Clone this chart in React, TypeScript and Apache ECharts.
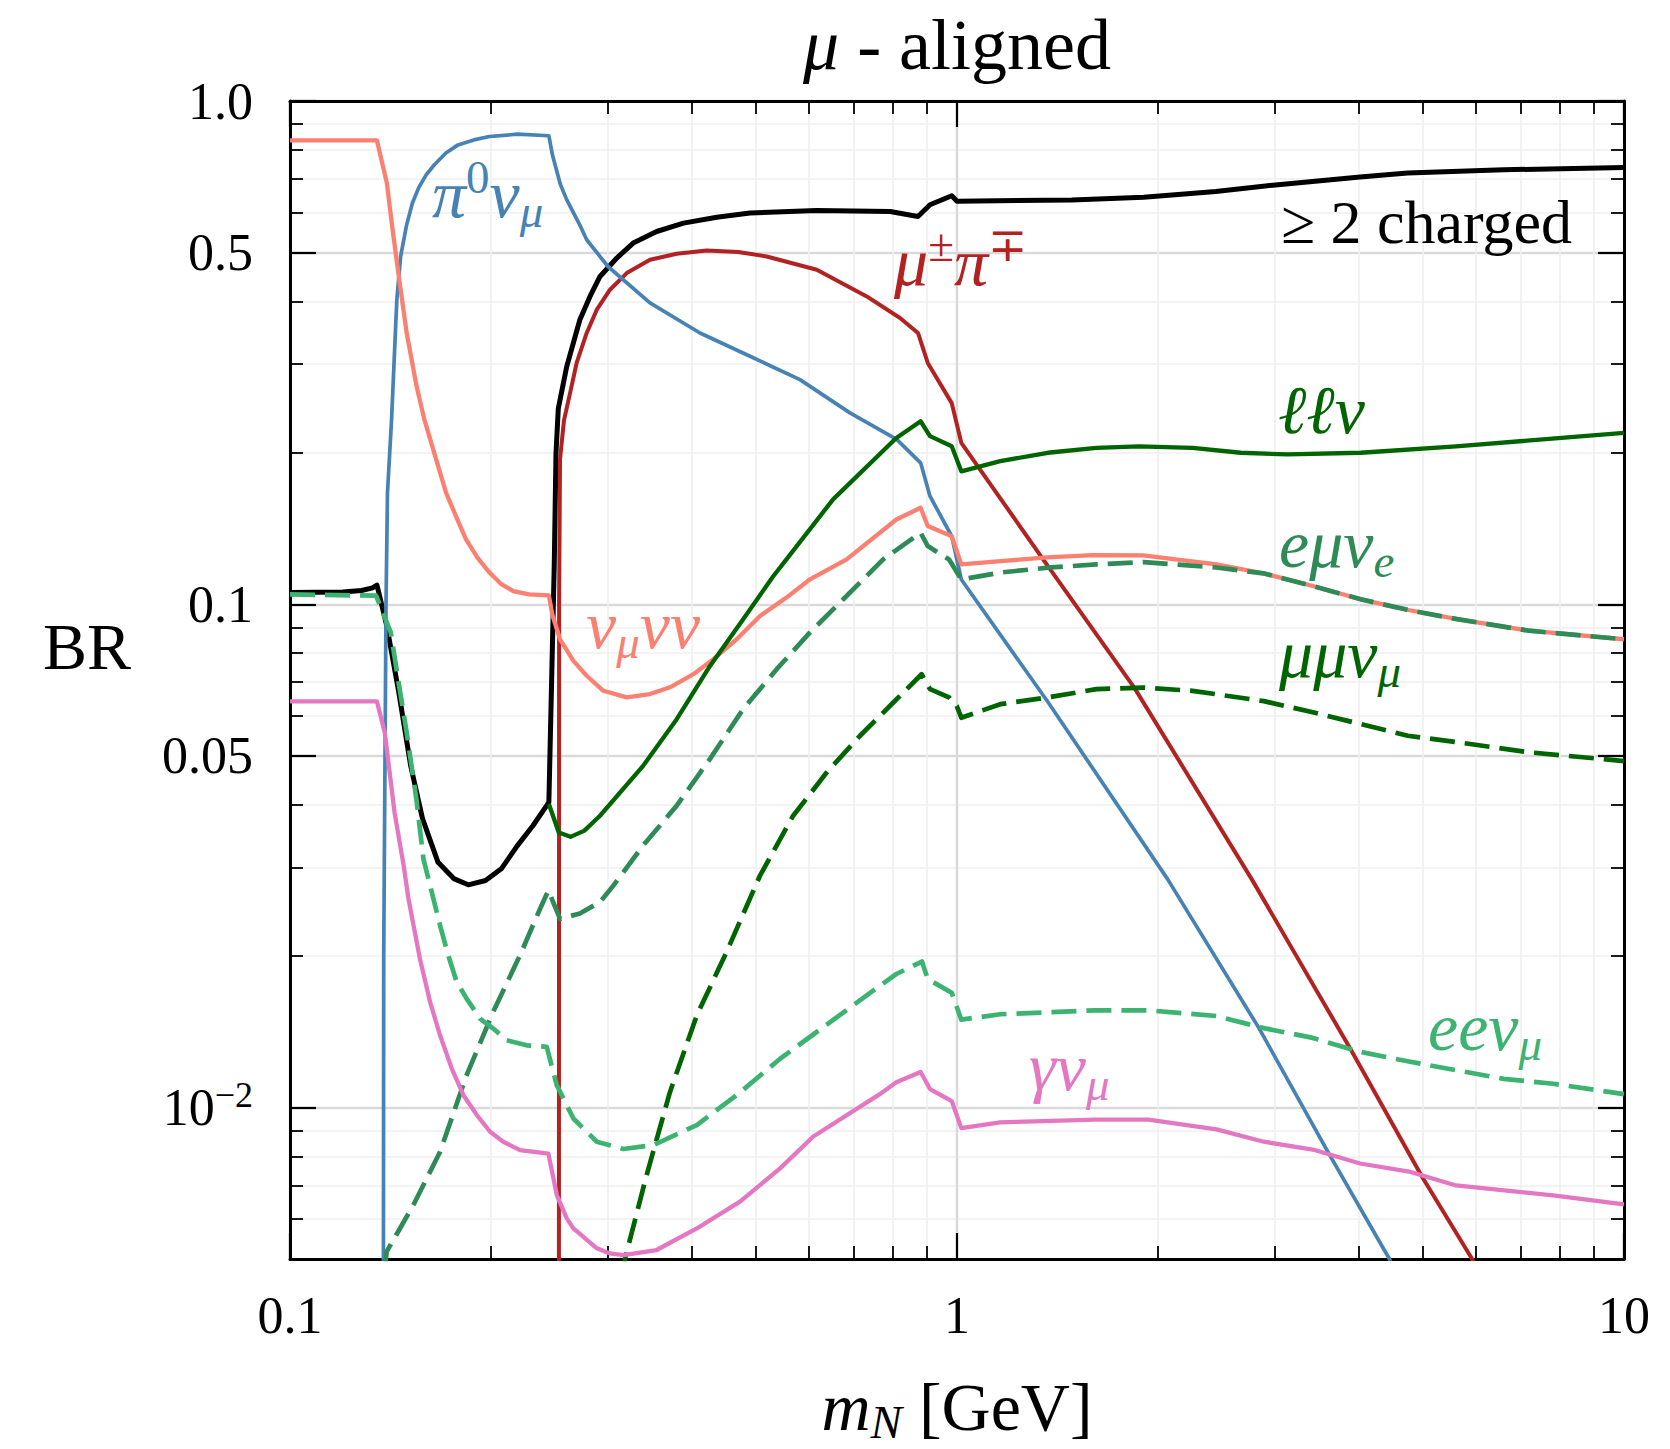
import React, { useEffect, useRef } from "react";
import * as echarts from "echarts";

type Pt = [number, number];

const FONT = '"Liberation Serif", "DejaVu Serif", "Times New Roman", serif';

// ---------- axes ----------
const xRange = [0.1, 10];
const yRange = [0.005, 1];
const xMajorTicks = [0.1, 1, 10];
const xTickLabels = ["0.1", "1", "10"];
const xMinorTicks = [0.2, 0.3, 0.4, 0.5, 0.6, 0.7, 0.8, 0.9, 2, 3, 4, 5, 6, 7, 8, 9];
const yMajorTicks = [0.01, 0.05, 0.1, 0.5, 1];
const yTickLabels = ["10^-2", "0.05", "0.1", "0.5", "1.0"];
const yMinorTicks = [0.006, 0.007, 0.008, 0.009, 0.02, 0.03, 0.04, 0.06, 0.07, 0.08, 0.09, 0.2, 0.3, 0.4, 0.6, 0.7, 0.8, 0.9];

// ---------- series data: [m_N (GeV), BR] ----------
const pi0NuMu: Pt[] = [
  [0.138, 0.003], [0.1382, 0.02], [0.1393, 0.1], [0.14, 0.1665], [0.142, 0.233], [0.1446, 0.403],
  [0.1465, 0.491], [0.1496, 0.568], [0.1526, 0.627], [0.1559, 0.672], [0.16, 0.713], [0.1646, 0.747],
  [0.1713, 0.788], [0.1786, 0.818], [0.1886, 0.837], [0.1991, 0.85], [0.2191, 0.859], [0.2444, 0.853],
  [0.2475, 0.78], [0.2544, 0.682], [0.26, 0.636], [0.2725, 0.564], [0.2785, 0.53], [0.2997, 0.469],
  [0.3465, 0.397], [0.4118, 0.346], [0.4894, 0.311], [0.5815, 0.2795], [0.691, 0.24], [0.812, 0.2126],
  [0.882, 0.191], [0.911, 0.164], [0.982, 0.1365], [1.015, 0.112], [1.368, 0.064], [2.07, 0.0284],
  [2.836, 0.01438], [3.61, 0.0081], [4.45, 0.005], [4.6, 0.0045],
];

const nuMuNuNu: Pt[] = [
  [0.1, 0.835], [0.135, 0.835], [0.1397, 0.687], [0.1425, 0.555], [0.1456, 0.448], [0.1496, 0.346],
  [0.1548, 0.271], [0.159, 0.233], [0.1656, 0.194], [0.1714, 0.1665], [0.1773, 0.1497], [0.1836, 0.1346],
  [0.191, 0.1238], [0.1991, 0.1156], [0.2074, 0.1096], [0.2162, 0.1062], [0.2282, 0.1046], [0.2444, 0.1041],
  [0.2475, 0.095], [0.254, 0.0852], [0.266, 0.0772], [0.2785, 0.0721], [0.295, 0.0673], [0.3198, 0.0653],
  [0.3465, 0.0663], [0.3713, 0.0684], [0.4026, 0.0726], [0.4312, 0.0778], [0.4674, 0.0852], [0.5066, 0.0948],
  [0.555, 0.1031], [0.602, 0.1121], [0.6832, 0.1228], [0.811, 0.1474], [0.882, 0.1555], [0.904, 0.143],
  [0.982, 0.1365], [1.015, 0.12], [1.2, 0.1222], [1.366, 0.1239], [1.6, 0.1252], [1.901, 0.1251],
  [2.449, 0.12], [2.88, 0.1152], [3.415, 0.1087], [4.03, 0.1023], [4.75, 0.0974], [5.62, 0.0934],
  [7.2, 0.0886], [10, 0.0852],
];

const muPi: Pt[] = [
  [0.253, 0.003], [0.2532, 0.1], [0.254, 0.194], [0.2575, 0.232], [0.263, 0.263], [0.269, 0.3016],
  [0.2785, 0.346], [0.2884, 0.385], [0.3018, 0.4217], [0.3198, 0.455], [0.3465, 0.4836], [0.38, 0.497],
  [0.4214, 0.5047], [0.47, 0.501], [0.5185, 0.491], [0.6163, 0.462], [0.7323, 0.409], [0.8215, 0.3705],
  [0.874, 0.346], [0.904, 0.3016], [0.982, 0.251], [1.015, 0.2093], [1.357, 0.121], [1.844, 0.0683],
  [2.767, 0.0284], [3.886, 0.0131], [4.985, 0.00727], [5.92, 0.005], [6.2, 0.0044],
];

const charged2: Pt[] = [
  [0.1, 0.1055], [0.12, 0.1058], [0.128, 0.1065], [0.133, 0.1078], [0.135, 0.1092], [0.1397, 0.0905],
  [0.1456, 0.0668], [0.1517, 0.0477], [0.158, 0.0375], [0.1667, 0.0307], [0.176, 0.0285], [0.185, 0.0277],
  [0.1964, 0.02825], [0.2074, 0.0298], [0.2191, 0.0331], [0.2313, 0.0363], [0.2444, 0.0404], [0.249, 0.12],
  [0.2505, 0.2], [0.2525, 0.245], [0.26, 0.297], [0.272, 0.3676], [0.2817, 0.409], [0.2916, 0.448],
  [0.309, 0.4875], [0.327, 0.522], [0.3546, 0.5504], [0.389, 0.572], [0.4363, 0.5877], [0.4894, 0.599],
  [0.6163, 0.606], [0.7937, 0.603], [0.874, 0.5897], [0.911, 0.622], [0.982, 0.6483], [1.0, 0.632],
  [1.486, 0.636], [1.905, 0.644], [2.443, 0.661], [3.03, 0.682], [4.02, 0.706], [4.74, 0.719],
  [6.6, 0.73], [10, 0.738],
];

const llNu: Pt[] = [
  [0.2444, 0.0401], [0.2529, 0.0352], [0.2634, 0.0345], [0.2763, 0.0355], [0.2916, 0.038],
  [0.3386, 0.0478], [0.38, 0.0591], [0.4263, 0.0754], [0.478, 0.0934], [0.5306, 0.1138],
  [0.555, 0.1228], [0.652, 0.1616], [0.811, 0.214], [0.882, 0.231], [0.911, 0.2158], [0.982, 0.206],
  [1.015, 0.1837], [1.161, 0.1925], [1.368, 0.2], [1.618, 0.2046], [1.873, 0.206], [2.255, 0.2046],
  [2.662, 0.2], [3.133, 0.1985], [4.03, 0.2], [5.6, 0.206], [10, 0.219],
];

const eMuNuE: Pt[] = [
  [0.1388, 0.0048], [0.1396, 0.00517], [0.1531, 0.0064], [0.1679, 0.00817], [0.184, 0.0116],
  [0.2017, 0.0155], [0.2212, 0.02006], [0.237, 0.0248], [0.244, 0.027], [0.254, 0.0237], [0.272, 0.0243],
  [0.2916, 0.0256], [0.3053, 0.0276], [0.3386, 0.0332], [0.38, 0.0398], [0.4263, 0.0493], [0.478, 0.0619],
  [0.5366, 0.0743], [0.602, 0.0879], [0.6753, 0.1023], [0.775, 0.1228], [0.882, 0.1387], [0.904, 0.1305],
  [0.973, 0.1227], [1.015, 0.112], [1.161, 0.1156], [1.368, 0.1182], [1.618, 0.12], [1.905, 0.1213],
  [2.449, 0.1183], [2.88, 0.1152], [3.415, 0.1087], [4.03, 0.1023], [4.75, 0.0974], [5.62, 0.0934],
  [7.2, 0.0886], [10, 0.0852],
];

const muMuNuMu: Pt[] = [
  [0.3165, 0.0046], [0.3178, 0.005], [0.3425, 0.00734], [0.3713, 0.01074], [0.4073, 0.01525],
  [0.4516, 0.0204], [0.5066, 0.0289], [0.568, 0.038], [0.6376, 0.0463], [0.7155, 0.0548],
  [0.8027, 0.0638], [0.885, 0.0726], [0.911, 0.0678], [0.973, 0.0653], [0.999, 0.0628], [1.015, 0.0595],
  [1.161, 0.0633], [1.368, 0.0653], [1.618, 0.0678], [1.905, 0.0683], [2.255, 0.0673], [2.884, 0.0642],
  [3.415, 0.061], [4.03, 0.0578], [4.74, 0.0548], [5.62, 0.0532], [7.2, 0.0508], [10, 0.0488],
];

const eeNuMu: Pt[] = [
  [0.1, 0.1046], [0.1346, 0.104], [0.1416, 0.0879], [0.1455, 0.0699], [0.1496, 0.0556], [0.1547, 0.041],
  [0.1585, 0.0312], [0.1631, 0.0268], [0.1679, 0.023], [0.1727, 0.02006], [0.1778, 0.01776],
  [0.184, 0.01646], [0.1927, 0.01502], [0.2017, 0.01435], [0.2113, 0.0136], [0.2263, 0.01329],
  [0.2426, 0.0132], [0.2512, 0.01107], [0.266, 0.00951], [0.2884, 0.00855], [0.3161, 0.00827],
  [0.3505, 0.00842], [0.4073, 0.00923], [0.4674, 0.01058], [0.543, 0.0125], [0.766, 0.01745],
  [0.811, 0.01842], [0.886, 0.0195], [0.904, 0.018], [0.982, 0.0169], [1.015, 0.01495], [1.161, 0.01532],
  [1.614, 0.0156], [1.936, 0.0156], [2.449, 0.0152], [2.884, 0.01438], [3.415, 0.01375], [4.02, 0.0129],
  [4.76, 0.01234], [6.6, 0.0114], [7.83, 0.01115], [10, 0.01063],
];

const gammaNu: Pt[] = [
  [0.1, 0.0641], [0.135, 0.0641], [0.1387, 0.0556], [0.1435, 0.0385], [0.1482, 0.03], [0.1505, 0.026],
  [0.1566, 0.01975], [0.1622, 0.0162], [0.1679, 0.0139], [0.1748, 0.01195], [0.182, 0.01058],
  [0.1906, 0.00966], [0.1995, 0.00895], [0.2088, 0.00855], [0.2212, 0.00823], [0.244, 0.0081],
  [0.2512, 0.0067], [0.26, 0.00602], [0.266, 0.00575], [0.2884, 0.00525], [0.3018, 0.00513],
  [0.3161, 0.00509], [0.3545, 0.00521], [0.4073, 0.00575], [0.4728, 0.0065], [0.543, 0.00757],
  [0.609, 0.00876], [0.766, 0.01063], [0.811, 0.01122], [0.882, 0.01176], [0.911, 0.01088],
  [0.982, 0.0103], [1.015, 0.0091], [1.161, 0.00934], [1.614, 0.00946], [1.936, 0.00946],
  [2.449, 0.00905], [2.884, 0.00855], [3.415, 0.00825], [4.02, 0.00774], [4.76, 0.00746], [5.6, 0.007],
  [7.83, 0.00669], [10, 0.00642],
];

// ---------- styling helpers ----------
const tok = (size: number, italic: boolean, extra: any = {}) => ({
  fontFamily: FONT,
  fontStyle: italic ? "italic" : "normal",
  fontSize: size,
  lineHeight: size,
  verticalAlign: "middle",
  ...extra,
});

const richFor = (F: number, f: number, subPad: number, supPad: number) => ({
  i: tok(F, true),
  n: tok(F, false),
  sub: tok(f, true, { padding: [subPad, 0, 0, 0] }),
  sup: tok(f, false, { padding: [0, 0, supPad, 0] }),
});

const textEl = (text: string, x: number, y: number, color: string, F: number, f: number, align = "left") => ({
  type: "text",
  x,
  y,
  z: 100,
  silent: true,
  style: {
    text,
    fill: color,
    fontFamily: FONT,
    fontSize: F,
    fontStyle: "italic",
    align,
    textAlign: align,
    verticalAlign: "middle",
    textVerticalAlign: "middle",
    rich: richFor(F, f, Math.round(F * 0.5), Math.round(F * 0.5)),
  },
});

const findIdx = (arr: number[], v: number) => arr.findIndex((t) => Math.abs(t - v) <= t * 1e-6);

const xLabelFmt = (v: number) => {
  const i = findIdx(xMajorTicks, v);
  return i < 0 ? "" : `{b|${xTickLabels[i]}}`;
};
const yLabelFmt = (v: number) => {
  const i = findIdx(yMajorTicks, v);
  if (i < 0) return "";
  const s = yTickLabels[i];
  const m = s.match(/^10\^(-?\d+)$/);
  if (m) return `{b|10}{sup|${m[1].replace("-", "\u2212")}}`;
  return `{b|${s}}`;
};

const TICK_F = 52;
const tickRich = {
  b: tok(TICK_F, false),
  sup: tok(36, false, { padding: [0, 0, 26, 0] }),
};

const MAJOR_GRID = { show: true, lineStyle: { color: "#d9d9d9", width: 2.4 } };
const MINOR_GRID = { show: true, lineStyle: { color: "#efefef", width: 1.6 } };

const axisCommon = (dim: "x" | "y", pos: string, major: boolean, showLine: boolean, showLabel: boolean) => {
  const range = dim === "x" ? xRange : yRange;
  const ticks = dim === "x" ? (major ? xMajorTicks : xMinorTicks) : major ? yMajorTicks : yMinorTicks;
  const isMain = pos === "bottom" || pos === "left";
  return {
    type: "log",
    logBase: 10,
    gridIndex: 0,
    position: pos,
    min: range[0],
    max: range[1],
    axisLine: { show: showLine, onZero: false, lineStyle: { color: "#000", width: 3 } },
    axisTick: {
      show: true,
      inside: true,
      length: major ? 26 : 13,
      customValues: ticks,
      lineStyle: { color: "#000", width: major ? 2.2 : 1.8 },
    },
    minorTick: { show: false },
    minorSplitLine: { show: false },
    axisLabel: showLabel
      ? {
          show: true,
          customValues: ticks,
          margin: dim === "x" ? 30 : 37,
          color: "#000",
          fontFamily: FONT,
          fontSize: TICK_F,
          formatter: dim === "x" ? xLabelFmt : yLabelFmt,
          rich: tickRich,
        }
      : { show: false },
    splitLine: isMain ? (major ? MAJOR_GRID : MINOR_GRID) : { show: false },
    axisPointer: { show: false },
  };
};

const lineSeries = (name: string, data: Pt[], color: string, width: number, dashed = false) => ({
  type: "line",
  name,
  data,
  xAxisIndex: 0,
  yAxisIndex: 0,
  showSymbol: false,
  symbol: "none",
  clip: true,
  silent: true,
  smooth: false,
  lineStyle: {
    color,
    width,
    type: dashed ? [25, 10] : "solid",
    cap: "butt",
    join: "round",
  },
  itemStyle: { color },
});

const COLORS = {
  blue: "#4682b4",
  salmon: "#fa8072",
  red: "#b22222",
  black: "#000000",
  dgreen: "#006400",
  sgreen: "#2e8b57",
  mgreen: "#3cb371",
  pink: "#e377c2",
};

export default function App() {
  const ref = useRef<HTMLDivElement>(null);
  useEffect(() => {
    if (!ref.current) return;
    const chart = echarts.init(ref.current, null, { renderer: "svg" });
    const option: any = {
      animation: false,
      backgroundColor: "#ffffff",
      textStyle: { fontFamily: FONT },
      grid: {
        left: 290,
        top: 101,
        width: 1334,
        height: 1158,
        containLabel: false,
        outerBoundsMode: "none",
      },
      xAxis: [
        axisCommon("x", "bottom", true, true, true),
        axisCommon("x", "bottom", false, false, false),
        axisCommon("x", "top", true, true, false),
        axisCommon("x", "top", false, false, false),
      ],
      yAxis: [
        axisCommon("y", "left", true, true, true),
        axisCommon("y", "left", false, false, false),
        axisCommon("y", "right", true, true, false),
        axisCommon("y", "right", false, false, false),
      ],
      series: [
        lineSeries("≥ 2 charged", charged2, COLORS.black, 5),
        lineSeries("μ±π∓", muPi, COLORS.red, 4),
        lineSeries("π0νμ", pi0NuMu, COLORS.blue, 3.7),
        lineSeries("νμνν", nuMuNuNu, COLORS.salmon, 4.3),
        lineSeries("ℓℓν", llNu, COLORS.dgreen, 4.3),
        lineSeries("eμνe", eMuNuE, COLORS.sgreen, 4.7, true),
        lineSeries("μμνμ", muMuNuMu, COLORS.dgreen, 4.7, true),
        lineSeries("eeνμ", eeNuMu, COLORS.mgreen, 4.7, true),
        lineSeries("γνμ", gammaNu, COLORS.pink, 4.3),
      ],
      graphic: [
        {
          type: "text",
          x: 957,
          y: 45,
          silent: true,
          style: {
            text: "{i|μ}{n| - aligned}",
            fill: "#000",
            fontFamily: FONT,
            fontSize: 72,
            align: "center",
            textAlign: "center",
            verticalAlign: "middle",
            textVerticalAlign: "middle",
            rich: { i: tok(72, true), n: tok(72, false) },
          },
        },
        {
          type: "text",
          x: 957,
          y: 1407,
          silent: true,
          style: {
            text: "{i|m}{sub|N}{n| [GeV]}",
            fill: "#000",
            fontFamily: FONT,
            fontSize: 68,
            align: "center",
            textAlign: "center",
            verticalAlign: "middle",
            textVerticalAlign: "middle",
            rich: richFor(68, 47, 30, 30),
          },
        },
        {
          type: "text",
          x: 87,
          y: 646,
          silent: true,
          style: {
            text: "{n|BR}",
            fill: "#000",
            fontFamily: FONT,
            fontSize: 66,
            align: "center",
            textAlign: "center",
            verticalAlign: "middle",
            textVerticalAlign: "middle",
            rich: { n: tok(66, false) },
          },
        },
        textEl("{i|π}{sup|0}{i|ν}{sub|μ}", 432, 194, COLORS.blue, 68, 47),
        textEl("{i|μ}{sup|±}{i|π}{sup|∓}", 894, 262, COLORS.red, 68, 47),
        textEl("{n|≥ 2 charged}", 1281, 222, COLORS.black, 62, 44),
        textEl("{i|ℓℓν}", 1278, 410, COLORS.dgreen, 68, 47),
        textEl("{i|eμν}{sub|e}", 1279, 544, COLORS.sgreen, 68, 47),
        textEl("{i|μμν}{sub|μ}", 1279, 654, COLORS.dgreen, 68, 47),
        textEl("{i|ν}{sub|μ}{i|νν}", 586, 625, COLORS.salmon, 68, 47),
        textEl("{i|eeν}{sub|μ}", 1428, 1027, COLORS.mgreen, 68, 47),
        textEl("{i|γν}{sub|μ}", 1029, 1067, COLORS.pink, 68, 47),
      ],
    };
    chart.setOption(option);
    return () => chart.dispose();
  }, []);
  return (
    <div
      ref={ref}
      style={{ position: "absolute", left: 0, top: 0, width: 1670, height: 1449, background: "#fff" }}
    />
  );
}
